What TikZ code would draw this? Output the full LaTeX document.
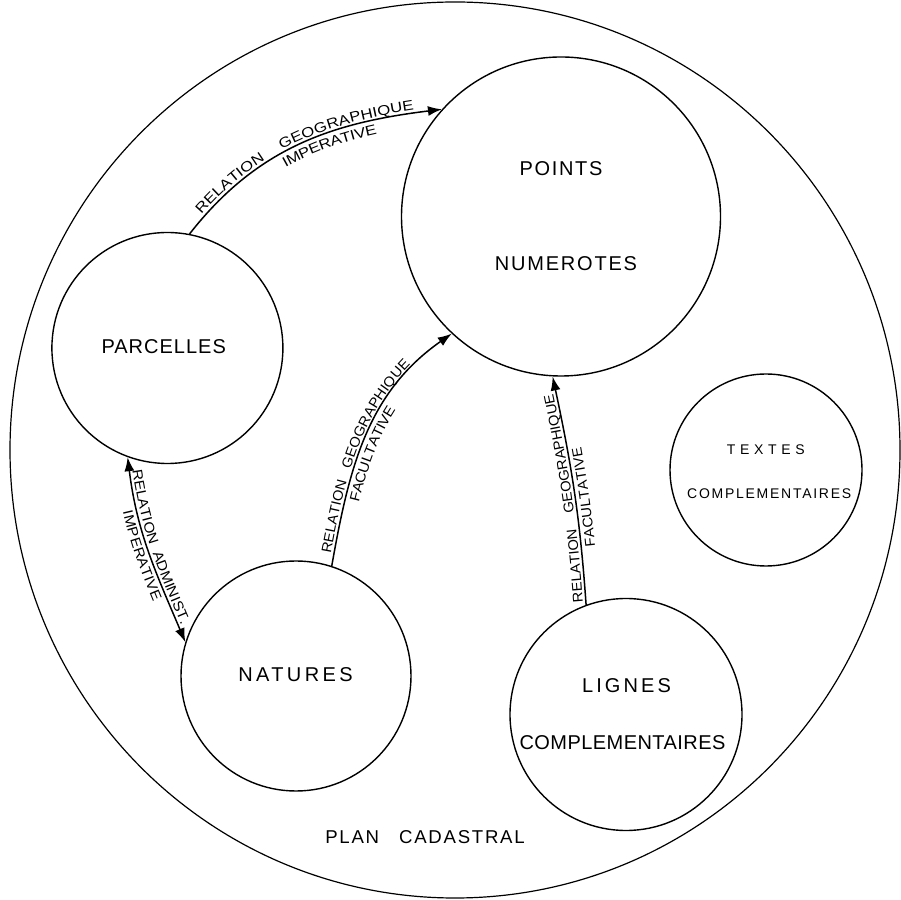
\documentclass[tikz,border=0pt]{standalone}
\usepackage{fontspec}
\setmainfont{Liberation Sans}
\newfontfamily\edgeA[FakeStretch=1.2]{Liberation Sans}
\newfontfamily\edgeB[FakeStretch=1.1]{Liberation Sans}
\newfontfamily\edgeC[FakeStretch=1.05]{Liberation Sans}
\usetikzlibrary{arrows.meta,decorations.text,shapes.geometric}

\newcommand\trk[2]{{\addfontfeature{LetterSpace=#1}#2}}
\newcommand\bigfont{\fontsize{20}{24}\selectfont}
\newcommand\smallfont{\fontsize{14}{17}\selectfont}
\newcommand\planfont{\fontsize{18.6}{22}\selectfont}
\newcommand\esize{\fontsize{14}{17}\selectfont}

\begin{document}
\begin{tikzpicture}[x=1pt,y=1pt,
  frame/.style={draw, ellipse, line width=1.2pt, inner sep=0pt},
  place/.style={draw, circle, line width=1.4pt, inner sep=0pt},
  lbl/.style={inner sep=0pt, font=\bigfont},
  slbl/.style={inner sep=0pt, font=\smallfont},
  conn/.style={line width=1.5pt, -{Latex[length=14pt,width=10pt]}},
  conntwo/.style={line width=1.5pt, {Latex[length=14pt,width=10pt]}-{Latex[length=14pt,width=10pt]}}
]
\useasboundingbox (0,0) rectangle (901,899);

% outer frame
\node[frame, minimum width=890pt, minimum height=896pt] (outer) at (455,449) {};
\node[inner sep=0pt, font=\planfont] (plan) at (425,62) {\trk{9.4}{PLAN}\hspace{20pt}\trk{9.4}{CADASTRAL}};

% places
\node[place, minimum size=319pt] (pts) at (561,682.5) {};
\node[lbl] (ptsA) at (561,730.2) {\trk{8.5}{POINTS}};
\node[lbl] (ptsB) at (566,635.3) {\trk{9}{NUMEROTES}};

\node[place, minimum size=231pt] (parc) at (167.4,551) {};
\node[lbl] (parcA) at (163.7,552.2) {\trk{5}{PARCELLES}};

\node[place, minimum size=230pt] (nat) at (296,223) {};
\node[lbl] (natA) at (295.5,224.3) {\trk{16.8}{NATURES}};

\node[place, minimum size=232pt] (lig) at (626,184.5) {};
\node[lbl] (ligA) at (626.5,213.5) {\trk{15.5}{LIGNES}};
\node[lbl] (ligB) at (622.5,156.5) {\trk{2.2}{COMPLEMENTAIRES}};

\node[place, minimum size=192pt] (txt) at (766,429) {};
\node[slbl] (txtA) at (765.8,449) {\trk{33.6}{TEXTES}};
\node[slbl] (txtB) at (769.2,405.7) {\trk{12.4}{COMPLEMENTAIRES}};

% connectors
\draw[conn,
  postaction={decorate, decoration={text along path, raise=3pt,
    text align={left indent=22pt},
    text={|\edgeA\esize|RELATION\ \ \ \ GEOGRAPHIQUE}}},
  postaction={decorate, decoration={text along path, raise=-14pt,
    text align={left indent=120pt},
    text={|\edgeA\esize|IMPERATIVE}}}]
  (parc.79) to[out=52,in=187] (pts.138);

\draw[conntwo,
  postaction={decorate, decoration={text along path, raise=3pt,
    text align={left indent=14pt},
    text={|\edgeB\esize|RELATION\ \ ADMINIST.}}},
  postaction={decorate, decoration={text along path, raise=-14pt,
    text align={left indent=52pt},
    text={|\edgeB\esize|IMPERATIVE}}}]
  (parc.250) to[out=-83,in=113] (nat.163);

\draw[conn,
  postaction={decorate, decoration={text along path, raise=3pt,
    text align={left indent=12pt},
    text={|\edgeC\esize|RELATION\ \ \ GEOGRAPHIQUE}}},
  postaction={decorate, decoration={text along path, raise=-14pt,
    text align={left indent=68pt},
    text={|\edgeB\esize|FACULTATIVE}}}]
  (nat.72) to[out=80,in=215] (pts.227);

\draw[conn,
  postaction={decorate, decoration={text along path, raise=3pt,
    text align={left indent=3pt},
    text={|\edgeC\esize|RELATION\ \ \ \ GEOGRAPHIQUE}}},
  postaction={decorate, decoration={text along path, raise=-14pt,
    text align={left indent=57pt},
    text={|\edgeC\esize|FACULTATIVE}}}]
  (lig.110) to[out=94,in=-78] (pts.267);
\end{tikzpicture}
\end{document}
